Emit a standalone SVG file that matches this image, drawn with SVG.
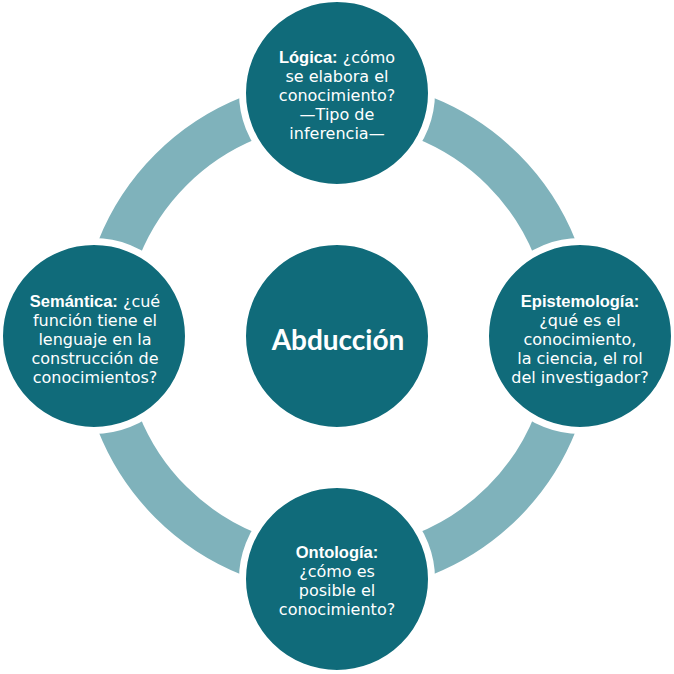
<svg xmlns="http://www.w3.org/2000/svg" width="674" height="674" viewBox="0 0 674 674">
<style>
.node{fill:#106b7a;stroke:#ffffff;stroke-width:7}
.ring{fill:none;stroke:#7fb2bb;stroke-width:44}
.t{font-family:"DejaVu Sans","Liberation Sans",sans-serif;font-size:16px;fill:#ffffff;text-anchor:middle}
.b{font-family:"Liberation Sans","DejaVu Sans",sans-serif;font-weight:bold;font-size:16.5px}
.c{font-family:Lato,"Liberation Sans",sans-serif;font-size:28px;font-weight:bold;fill:#ffffff;text-anchor:middle}
</style>
<rect width="674" height="674" fill="#ffffff"/>
<g id="connectors">
<circle class="ring" cx="337" cy="336" r="235"/>
</g>
<g id="node-logica">
<circle class="node" cx="337" cy="93" r="94.5"/>
<text class="t" x="337" y="63"><tspan class="b">Lógica:</tspan> ¿cómo</text>
<text class="t" x="337" y="82">se elabora el</text>
<text class="t" x="337" y="101">conocimiento?</text>
<text class="t" x="337" y="120">—Tipo de</text>
<text class="t" x="337" y="139">inferencia—</text>
</g>
<g id="node-semantica">
<circle class="node" cx="94" cy="336" r="94.5"/>
<text class="t" x="95" y="307"><tspan class="b">Semántica:</tspan> ¿cué</text>
<text class="t" x="95" y="326">función tiene el</text>
<text class="t" x="95" y="345">lenguaje en la</text>
<text class="t" x="95" y="364">construcción de</text>
<text class="t" x="95" y="383">conocimientos?</text>
</g>
<g id="node-epistemologia">
<circle class="node" cx="580" cy="336" r="94.5"/>
<text class="t b" x="580" y="307">Epistemología:</text>
<text class="t" x="580" y="326">¿qué es el</text>
<text class="t" x="580" y="345">conocimiento,</text>
<text class="t" x="580" y="364">la ciencia, el rol</text>
<text class="t" x="580" y="383">del investigador?</text>
</g>
<g id="node-ontologia">
<circle class="node" cx="337" cy="579" r="94.5"/>
<text class="t b" x="337" y="558">Ontología:</text>
<text class="t" x="337" y="577">¿cómo es</text>
<text class="t" x="337" y="596">posible el</text>
<text class="t" x="337" y="615">conocimiento?</text>
</g>
<g id="node-abduccion">
<circle class="node" cx="337" cy="336" r="94.5"/>
<text class="c" x="338" y="350">Abducción</text>
</g>
</svg>
